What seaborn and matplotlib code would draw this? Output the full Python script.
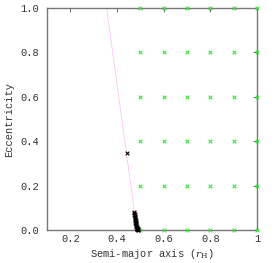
import numpy as np
import pandas as pd
import matplotlib
matplotlib.use("Agg")
import matplotlib.pyplot as plt
import seaborn as sns

# initial grid of test orbits (green)
grid_a = [0.5, 0.6, 0.7, 0.8, 0.9, 1.0]
grid_e = [0.0, 0.2, 0.4, 0.6, 0.8, 1.0]

# surviving / evolved orbits (black)
end_a = [0.442, 0.472, 0.474, 0.476, 0.473, 0.477, 0.475, 0.478, 0.476, 0.479,
         0.477, 0.480, 0.478, 0.481, 0.480, 0.482, 0.481, 0.484, 0.483, 0.485,
         0.484, 0.486, 0.487, 0.488, 0.489, 0.490, 0.486, 0.488]
end_e = [0.345, 0.080, 0.075, 0.072, 0.066, 0.064, 0.058, 0.055, 0.050, 0.046,
         0.042, 0.038, 0.034, 0.030, 0.026, 0.022, 0.019, 0.016, 0.012, 0.010,
         0.007, 0.006, 0.004, 0.003, 0.002, 0.001, 0.009, 0.005]

# stability boundary line (pink)
line_a = [0.355, 0.475]
line_e = [1.0, 0.08]

sns.set_style("white")
plt.rcParams["font.family"] = ["Liberation Mono", "DejaVu Sans Mono"]
plt.rcParams["mathtext.fontset"] = "dejavuserif"

fig = plt.figure(figsize=(2.75, 2.63), dpi=100)
ax = fig.add_axes([0.171, 0.125, 0.764, 0.845])

ga, ge = np.meshgrid(grid_a, grid_e)
grid = pd.DataFrame({"a": ga.ravel(), "e": ge.ravel()})
ends = pd.DataFrame({"a": end_a, "e": end_e})
line = pd.DataFrame({"a": line_a, "e": line_e})

sns.lineplot(data=line, x="a", y="e", ax=ax, color="#ffc4f4", linewidth=0.6,
             sort=False)
sns.scatterplot(data=grid, x="a", y="e", ax=ax, marker="x", color="#40e040",
                s=7, linewidth=0.8, clip_on=False, zorder=3)
sns.scatterplot(data=ends, x="a", y="e", ax=ax, marker="x", color="black",
                s=7, linewidth=0.8, clip_on=False, zorder=4)

ax.set_xlim(0.1, 1.0)
ax.set_ylim(0.0, 1.0)
ax.set_xticks([0.2, 0.4, 0.6, 0.8, 1.0])
ax.set_xticklabels(["0.2", "0.4", "0.6", "0.8", "1"])
ax.set_yticks([0.0, 0.2, 0.4, 0.6, 0.8, 1.0])
ax.set_yticklabels(["0.0", "0.2", "0.4", "0.6", "0.8", "1.0"])
ax.tick_params(direction="in", length=3, width=0.6, color="#555555",
               labelsize=7.5, labelcolor="#333333", top=True, right=True)
ax.tick_params(axis="x", pad=3)
ax.tick_params(axis="y", pad=6)
for sp in ax.spines.values():
    sp.set_color("#777777")
    sp.set_linewidth(1.0)

ax.set_xlabel(r"Semi-major axis ($r_{\rm H}$)", fontsize=7.5, color="#333333",
              labelpad=2)
ax.set_ylabel("Eccentricity", fontsize=7.5, color="#333333", labelpad=4)

fig.savefig("out.png", dpi=100)
